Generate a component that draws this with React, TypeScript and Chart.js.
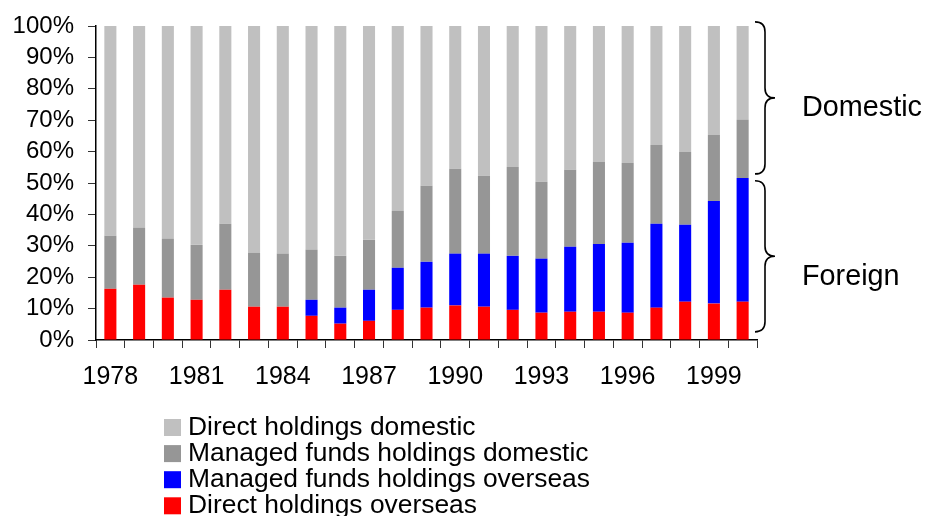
import React, { useEffect, useRef } from 'react';
import { Chart, registerables } from 'chart.js';

Chart.register(...registerables);

const years = ['1978','1979','1980','1981','1982','1983','1984','1985','1986','1987','1988','1989','1990','1991','1992','1993','1994','1995','1996','1997','1998','1999','2000'];
const labelEvery = 3;

const directOverseas = [16.3,17.6,13.5,12.8,16.0,10.6,10.6,7.7,5.2,6.1,9.6,10.3,11.0,10.6,9.6,8.7,9.0,9.0,8.7,10.3,12.2,11.6,12.2];
const managedOverseas = [0,0,0,0,0,0,0,5.1,5.1,9.9,13.4,14.6,16.5,16.9,17.2,17.2,20.7,21.6,22.3,26.7,24.5,32.7,39.4];
const managedDomestic = [16.9,18.1,18.7,17.5,21.0,17.2,16.9,15.9,16.5,15.9,18.1,24.2,27.0,24.8,28.3,24.5,24.5,26.1,25.4,25.1,23.2,21.0,18.5];
const directDomestic = [66.8,64.3,67.8,69.7,63.0,72.2,72.5,71.3,73.2,68.1,58.9,50.9,45.5,47.7,44.9,49.6,45.8,43.3,43.6,37.9,40.1,34.7,29.9];

const seriesNames = ['Direct holdings overseas','Managed funds holdings overseas','Managed funds holdings domestic','Direct holdings domestic'];
const seriesColors = ['#FF0000','#0000FF','#969696','#C0C0C0'];

const braceLabels = ['Domestic','Foreign'];
const braceFrom = [101.3, 50.7];
const braceTo = [52.9, 2.6];
const braceTextAt = [74, 20];

const FONT = "'Liberation Sans', Arial, Helvetica, sans-serif";

const bracePlugin = {
  id: 'braces',
  afterDraw(chart: any) {
    const ctx = chart.ctx;
    const y = chart.scales.y;
    const x0 = chart.chartArea.right - 2;
    const w = 20;
    ctx.save();
    ctx.strokeStyle = '#000';
    ctx.lineWidth = 1.6;
    braceLabels.forEach((lab, i) => {
      const y1 = y.getPixelForValue(braceFrom[i]);
      const y2 = y.getPixelForValue(braceTo[i]);
      const ym = (y1 + y2) / 2;
      const xs = x0 + w * 0.5;
      const tip = x0 + w;
      const r = 10;
      ctx.beginPath();
      ctx.moveTo(x0, y1);
      ctx.quadraticCurveTo(xs, y1, xs, y1 + r);
      ctx.lineTo(xs, ym - r);
      ctx.quadraticCurveTo(xs, ym, tip, ym);
      ctx.quadraticCurveTo(xs, ym, xs, ym + r);
      ctx.lineTo(xs, y2 - r);
      ctx.quadraticCurveTo(xs, y2, x0, y2);
      ctx.stroke();
      ctx.fillStyle = '#000';
      ctx.font = `28.8px ${FONT}`;
      ctx.textAlign = 'left';
      ctx.textBaseline = 'middle';
      ctx.fillText(lab, 802, y.getPixelForValue(braceTextAt[i]));
    });
    ctx.restore();
  },
};

const legendPlugin = {
  id: 'vlegend',
  afterDraw(chart: any) {
    const ctx = chart.ctx;
    const ds = chart.data.datasets.slice().reverse();
    ctx.save();
    ctx.font = `26.4px ${FONT}`;
    ctx.textAlign = 'left';
    ctx.textBaseline = 'alphabetic';
    ds.forEach((d: any, i: number) => {
      const top = 419 + i * 26.1;
      ctx.fillStyle = d.backgroundColor;
      ctx.fillRect(164, top, 17, 17);
      ctx.fillStyle = '#000';
      ctx.fillText(d.label, 188, top + 16);
    });
    ctx.restore();
  },
};

export default function App() {
  const ref = useRef<HTMLCanvasElement>(null);
  useEffect(() => {
    if (!ref.current) return;
    const values = [directOverseas, managedOverseas, managedDomestic, directDomestic];
    const chart = new Chart(ref.current, {
      type: 'bar',
      data: {
        labels: years,
        datasets: values.map((v, i) => ({
          label: seriesNames[i],
          data: v,
          backgroundColor: seriesColors[i],
          borderWidth: 0,
          categoryPercentage: 1,
          barPercentage: 0.42,
        })),
      },
      options: {
        responsive: false,
        animation: false,
        layout: { padding: { left: 0, right: 168, top: 26, bottom: 116 } },
        plugins: { legend: { display: false }, tooltip: { enabled: false } },
        scales: {
          x: {
            stacked: true,
            offset: true,
            grid: { display: true, drawOnChartArea: false, drawTicks: true, tickLength: 8, color: '#333', offset: true },
            border: { display: true, color: '#000', width: 1.5 },
            ticks: {
              autoSkip: false,
              maxRotation: 0,
              padding: 14,
              color: '#000',
              font: { family: FONT, size: 25 },
              callback: (_v: any, i: number) => (i % labelEvery === 0 ? years[i] : ''),
            },
            afterFit: (s: any) => { s.height = 60; },
          },
          y: {
            stacked: true,
            min: 0,
            max: 100,
            grid: { display: true, drawOnChartArea: false, drawTicks: true, tickLength: 8, color: '#333' },
            border: { display: true, color: '#000', width: 1.5 },
            ticks: {
              stepSize: 10,
              autoSkip: false,
              padding: 14,
              color: '#000',
              font: { family: FONT, size: 24, lineHeight: 1 },
              callback: (v: any) => `${v}%`,
            },
            afterFit: (s: any) => { s.width = 96; s.paddingTop = 0; s.paddingBottom = 0; },
          },
        },
      },
      plugins: [bracePlugin, legendPlugin],
    });
    return () => chart.destroy();
  }, []);
  return (
    <div style={{ position: 'absolute', left: 0, top: 0, width: 925, height: 516, background: '#fff' }}>
      <canvas ref={ref} width={925} height={516} style={{ width: 925, height: 516 }} />
    </div>
  );
}
